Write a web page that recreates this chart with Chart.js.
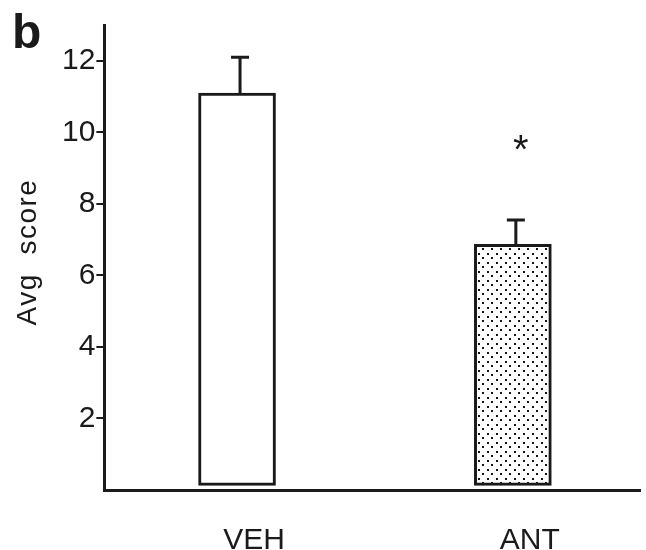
<!DOCTYPE html>
<html>
<head>
<meta charset="utf-8">
<script src="https://cdn.jsdelivr.net/npm/chart.js@4.4.1/dist/chart.umd.min.js"></script>
<style>
  html, body { margin: 0; padding: 0; background: #fff; }
  #wrap { width: 646px; height: 550px; }
</style>
</head>
<body>
<div id="wrap"><canvas id="barChart" width="646" height="550"></canvas></div>
<script>
// values
const categories = ['VEH', 'ANT'];
const avgScore = [11.1, 6.87];
const errUpper = [12.1, 7.55];
const yTicks = [2, 4, 6, 8, 10, 12];
const sigMark = ['', '*'];

const FONT = '"Liberation Sans", Arial, Helvetica, sans-serif';

// dotted fill for the ANT bar
function makeDots() {
  const c = document.createElement('canvas');
  c.width = 9; c.height = 9;
  const g = c.getContext('2d');
  g.fillStyle = '#fff';
  g.fillRect(0, 0, 9, 9);
  g.fillStyle = '#151515';
  g.fillRect(1, 1, 2, 2);
  g.fillRect(5, 5, 2, 2);
  return g.createPattern(c, 'repeat');
}

const extras = {
  id: 'extras',
  afterDatasetsDraw(chart) {
    const ctx = chart.ctx;
    const x = chart.scales.x, y = chart.scales.y;
    ctx.save();
    // error bars (upper only)
    ctx.strokeStyle = '#1a1a1a';
    ctx.lineWidth = 3;
    avgScore.forEach((v, i) => {
      const px = x.getPixelForValue(i + 1) + 3;
      ctx.beginPath();
      ctx.moveTo(px, y.getPixelForValue(v));
      ctx.lineTo(px, y.getPixelForValue(errUpper[i]));
      ctx.moveTo(px - 9, y.getPixelForValue(errUpper[i]));
      ctx.lineTo(px + 9, y.getPixelForValue(errUpper[i]));
      ctx.stroke();
    });
    // significance star
    ctx.fillStyle = '#1a1a1a';
    ctx.font = '40px ' + FONT;
    ctx.textAlign = 'center';
    ctx.textBaseline = 'alphabetic';
    sigMark.forEach((s, i) => {
      if (!s) return;
      ctx.fillText(s, x.getPixelForValue(i + 1) + 8, y.getPixelForValue(9.6) + 16);
    });
    // panel letter
    ctx.font = 'bold 48px ' + FONT;
    ctx.textAlign = 'left';
    ctx.fillText('b', 12, 48);
    // y axis title
    ctx.font = '28px ' + FONT;
    ctx.letterSpacing = '1.5px';
    ctx.translate(28, 252);
    ctx.rotate(-Math.PI / 2);
    ctx.textAlign = 'center';
    ctx.textBaseline = 'middle';
    ctx.fillText('Avg  score', 0, 0);
    ctx.restore();
  }
};

new Chart(document.getElementById('barChart'), {
  type: 'bar',
  data: {
    datasets: [{
      data: categories.map((c, i) => ({ x: i + 1, y: avgScore[i] })),
      backgroundColor: ['#ffffff', makeDots()],
      borderColor: '#1a1a1a',
      borderWidth: 3,
      borderSkipped: false,
      barThickness: 77,
      base: 0.13
    }]
  },
  options: {
    responsive: false,
    animation: false,
    layout: { padding: { left: 61, right: 6, top: 25, bottom: 0 } },
    plugins: { legend: { display: false }, tooltip: { enabled: false } },
    scales: {
      x: {
        type: 'linear',
        offset: false,
        min: 0.519,
        max: 2.461,
        afterBuildTicks: (s) => { s.ticks = categories.map((c, i) => ({ value: i + 1 })); },
        afterFit: (s) => { s.height = 60; },
        grid: { display: false, drawTicks: false },
        border: { display: true, color: '#1a1a1a', width: 3 },
        ticks: {
          callback: (v) => categories[v - 1] || '',
          color: '#1a1a1a',
          font: { family: FONT, size: 30, lineHeight: 1 },
          padding: 36,
          labelOffset: 17,
          maxRotation: 0
        }
      },
      y: {
        min: 0,
        max: 13,
        afterBuildTicks: (s) => { s.ticks = yTicks.map(v => ({ value: v })); },
        grid: { drawOnChartArea: false, drawTicks: true, tickLength: 8, color: '#1a1a1a', lineWidth: 2 },
        border: { display: true, color: '#1a1a1a', width: 3 },
        ticks: {
          color: '#1a1a1a',
          font: { family: FONT, size: 30 },
          padding: 1
        }
      }
    }
  },
  plugins: [extras]
});
</script>
</body>
</html>
